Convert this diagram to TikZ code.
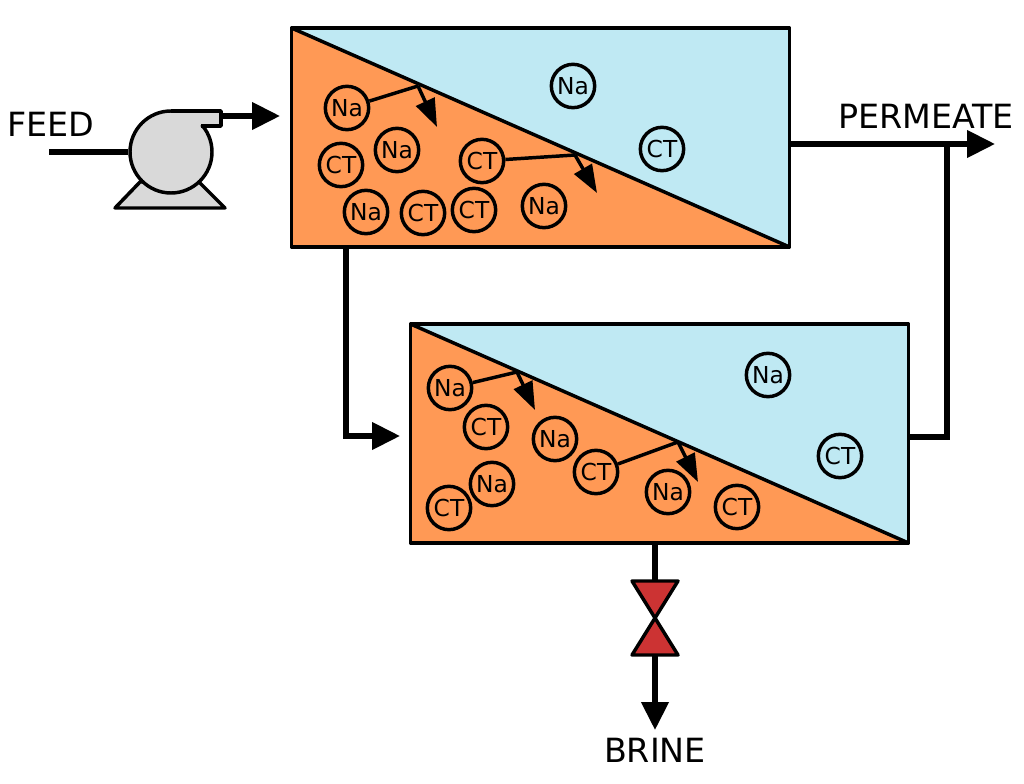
\documentclass[tikz,border=0pt]{standalone}
\usepackage{fontspec}
\setmainfont{DejaVu Sans}
\usetikzlibrary{arrows.meta, positioning, calc}
\definecolor{feedorange}{HTML}{FF9955}
\definecolor{permblue}{HTML}{BFE9F3}
\definecolor{pumpgray}{HTML}{D9D9D9}
\definecolor{valvered}{HTML}{CC3333}
\tikzset{
  stage/.style={minimum width=373.5pt,minimum height=164.25pt,inner sep=0pt,outer sep=0pt,fill=feedorange},
  ion/.style={circle,draw,line width=2.6pt,minimum size=32.5pt,inner sep=0pt,font=\fontsize{17.5}{20}\selectfont},
  streamlabel/.style={inner sep=0pt,font=\fontsize{25}{30}\selectfont},
  pipe/.style={line width=4pt},
  pipearrow/.style={line width=4pt,-{Triangle[length=21pt,width=20pt]}},
  flux/.style={line width=2.6pt},
  fluxarrow/.style={line width=2.6pt,-{Triangle[length=21pt,width=15pt]}},
  outline/.style={line width=2.6pt,line join=round}
}
\begin{document}
\begin{tikzpicture}[x=0.75pt,y=-0.75pt]
  \useasboundingbox (0,0) rectangle (1024,784);
  % first stage
  \node[stage] (top) at (540.5,137.5) {};
  \fill[permblue] (top.north west) -- (top.north east) -- (top.south east) -- cycle;
  \draw[outline] (top.north west) rectangle (top.south east);
  \draw[outline] (top.north west) -- (top.south east);
  % second stage
  \node[stage] (bot) at (659.5,433.5) {};
  \fill[permblue] (bot.north west) -- (bot.north east) -- (bot.south east) -- cycle;
  \draw[outline] (bot.north west) rectangle (bot.south east);
  \draw[outline] (bot.north west) -- (bot.south east);
  % ions, first stage
  \node[ion] (tna1) at (347,108) {Na};
  \node[ion] (tna2) at (397,150) {Na};
  \node[ion] (tna3) at (366,212) {Na};
  \node[ion] (tna4) at (544,206) {Na};
  \node[ion] (tna5) at (573,86) {Na};
  \node[ion] (tct1) at (341,165) {CT};
  \node[ion] (tct2) at (482,161) {CT};
  \node[ion] (tct3) at (423,213) {CT};
  \node[ion] (tct4) at (474,210) {CT};
  \node[ion] (tct5) at (662,149) {CT};
  % ions, second stage
  \node[ion] (bna1) at (450,388) {Na};
  \node[ion] (bna2) at (555,439) {Na};
  \node[ion] (bna3) at (492,484) {Na};
  \node[ion] (bna4) at (668,492) {Na};
  \node[ion] (bna5) at (768,375) {Na};
  \node[ion] (bct1) at (486,427) {CT};
  \node[ion] (bct2) at (596,472) {CT};
  \node[ion] (bct3) at (449,508) {CT};
  \node[ion] (bct4) at (737,507) {CT};
  \node[ion] (bct5) at (840,456) {CT};
  % rejected ions
  \coordinate (thit1) at (418,86);
  \coordinate (ttip1) at (437,127);
  \coordinate (thit2) at (575,155);
  \coordinate (ttip2) at (597,193);
  \coordinate (bhit1) at (517,372);
  \coordinate (btip1) at (535,410);
  \coordinate (bhit2) at (678,442);
  \coordinate (btip2) at (698,482);
  \draw[flux] (tna1) -- (thit1);
  \draw[fluxarrow] (thit1) -- (ttip1);
  \draw[flux] (tct2) -- (thit2);
  \draw[fluxarrow] (thit2) -- (ttip2);
  \draw[flux] (bna1) -- (bhit1);
  \draw[fluxarrow] (bhit1) -- (btip1);
  \draw[flux] (bct2) -- (bhit2);
  \draw[fluxarrow] (bhit2) -- (btip2);
  % pump
  \draw[outline,fill=pumpgray] (140,182) -- (115,208) -- (225,208) -- (199,182) -- cycle;
  \node[circle,draw,line width=2.6pt,fill=pumpgray,minimum size=61.5pt,inner sep=0pt] (pump) at (171,152) {};
  \fill[pumpgray] (171,112) -- (220,112) -- (220,125) -- (201,125) -- (190,140) -- (171,140) -- cycle;
  \draw[outline] (171,111) -- (221,111) -- (221,126) -- (201,126);
  \coordinate (feedstart) at (49,152);
  \coordinate (pumpout) at (221,116);
  \coordinate (feedin) at (280,116);
  \draw[pipe] (feedstart) -- (pump);
  \draw[pipearrow] (pumpout) -- (feedin);
  % pipes
  \coordinate (topout) at (346,247);
  \coordinate (botin) at (400,436);
  \draw[pipearrow] (topout) |- (botin);
  \coordinate (permstart) at (789,144);
  \coordinate (permend) at (995,144);
  \coordinate (botperm) at (908,437);
  \coordinate (joint) at (947,144);
  \draw[pipearrow] (permstart) -- (permend);
  \draw[pipe] (botperm) -| (joint);
  % valve
  \coordinate (botout) at (655,543);
  \coordinate (valvetop) at (655,581);
  \coordinate (valvemid) at (655,618);
  \coordinate (valvebot) at (655,655);
  \coordinate (brineend) at (655,730);
  \draw[pipe] (botout) -- (valvetop);
  \draw[pipearrow] (valvebot) -- (brineend);
  \draw[outline,fill=valvered] (632,581) -- (678,581) -- (valvemid) -- cycle;
  \draw[outline,fill=valvered] (632,655) -- (678,655) -- (valvemid) -- cycle;
  % labels
  \node[streamlabel] (feedlabel) at (51,124) {FEED};
  \node[streamlabel] (permlabel) at (926,116) {PERMEATE};
  \node[streamlabel] (brinelabel) at (655,750) {BRINE};
\end{tikzpicture}
\end{document}
